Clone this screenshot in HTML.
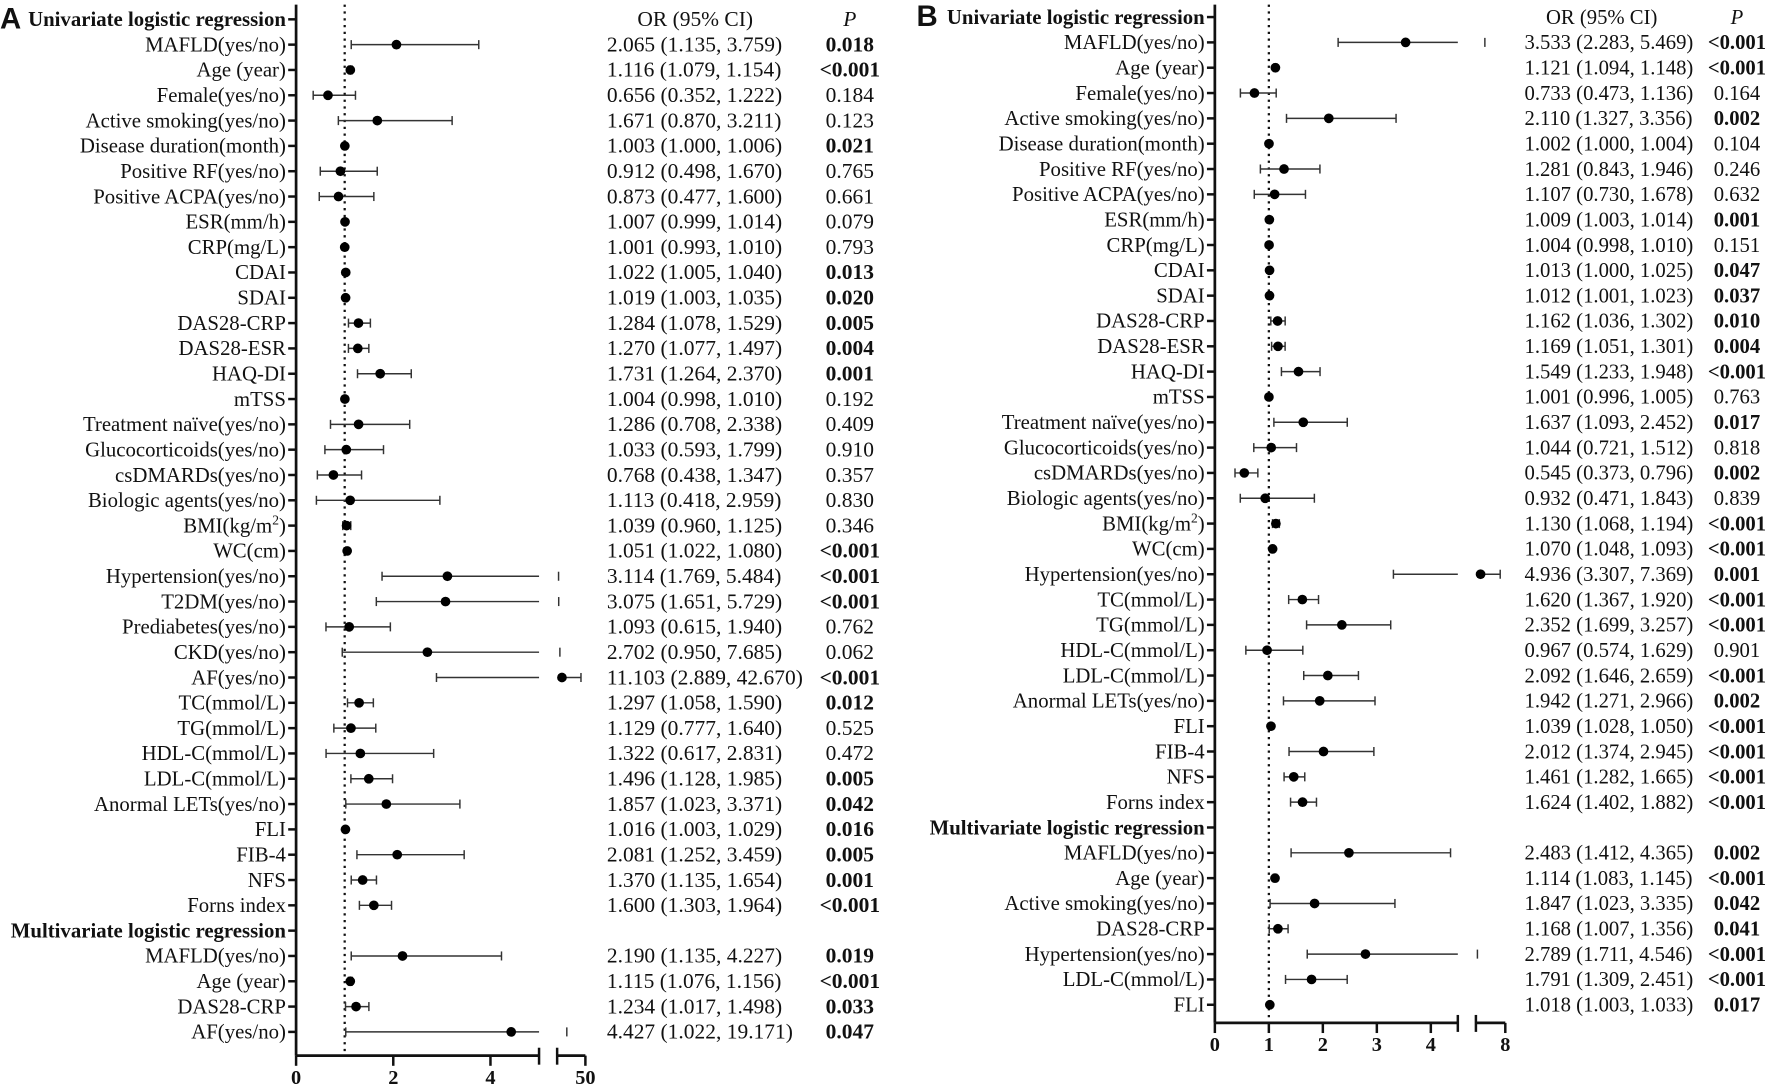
<!DOCTYPE html>
<html><head><meta charset="utf-8"><style>
html,body{margin:0;padding:0;background:#fff;}
svg{display:block;}
text{font-family:"Liberation Serif",serif;fill:#111;}
</style></head><body>
<svg id="chart" width="1772" height="1084" viewBox="0 0 1568 959" xmlns="http://www.w3.org/2000/svg"></svg>
<script>
// Panel A data
const labelsA = ["Univariate logistic regression","MAFLD(yes/no)","Age (year)","Female(yes/no)","Active smoking(yes/no)","Disease duration(month)","Positive RF(yes/no)","Positive ACPA(yes/no)","ESR(mm/h)","CRP(mg/L)","CDAI","SDAI","DAS28-CRP","DAS28-ESR","HAQ-DI","mTSS","Treatment naïve(yes/no)","Glucocorticoids(yes/no)","csDMARDs(yes/no)","Biologic agents(yes/no)","BMI(kg/m2)","WC(cm)","Hypertension(yes/no)","T2DM(yes/no)","Prediabetes(yes/no)","CKD(yes/no)","AF(yes/no)","TC(mmol/L)","TG(mmol/L)","HDL-C(mmol/L)","LDL-C(mmol/L)","Anormal LETs(yes/no)","FLI","FIB-4","NFS","Forns index","Multivariate logistic regression","MAFLD(yes/no)","Age (year)","DAS28-CRP","AF(yes/no)"];
const orA = [null,2.065,1.116,0.656,1.671,1.003,0.912,0.873,1.007,1.001,1.022,1.019,1.284,1.270,1.731,1.004,1.286,1.033,0.768,1.113,1.039,1.051,3.114,3.075,1.093,2.702,11.103,1.297,1.129,1.322,1.496,1.857,1.016,2.081,1.370,1.600,null,2.190,1.115,1.234,4.427];
const loA = [null,1.135,1.079,0.352,0.870,1.000,0.498,0.477,0.999,0.993,1.005,1.003,1.078,1.077,1.264,0.998,0.708,0.593,0.438,0.418,0.960,1.022,1.769,1.651,0.615,0.950,2.889,1.058,0.777,0.617,1.128,1.023,1.003,1.252,1.135,1.303,null,1.135,1.076,1.017,1.022];
const hiA = [null,3.759,1.154,1.222,3.211,1.006,1.670,1.600,1.014,1.010,1.040,1.035,1.529,1.497,2.370,1.010,2.338,1.799,1.347,2.959,1.125,1.080,5.484,5.729,1.940,7.685,42.670,1.590,1.640,2.831,1.985,3.371,1.029,3.459,1.654,1.964,null,4.227,1.156,1.498,19.171];
const pA = [null,"0.018","<0.001","0.184","0.123","0.021","0.765","0.661","0.079","0.793","0.013","0.020","0.005","0.004","0.001","0.192","0.409","0.910","0.357","0.830","0.346","<0.001","<0.001","<0.001","0.762","0.062","<0.001","0.012","0.525","0.472","0.005","0.042","0.016","0.005","0.001","<0.001",null,"0.019","<0.001","0.033","0.047"];
const ticksA = [0,2,4,50];
// Panel B data
const labelsB = ["Univariate logistic regression","MAFLD(yes/no)","Age (year)","Female(yes/no)","Active smoking(yes/no)","Disease duration(month)","Positive RF(yes/no)","Positive ACPA(yes/no)","ESR(mm/h)","CRP(mg/L)","CDAI","SDAI","DAS28-CRP","DAS28-ESR","HAQ-DI","mTSS","Treatment naïve(yes/no)","Glucocorticoids(yes/no)","csDMARDs(yes/no)","Biologic agents(yes/no)","BMI(kg/m2)","WC(cm)","Hypertension(yes/no)","TC(mmol/L)","TG(mmol/L)","HDL-C(mmol/L)","LDL-C(mmol/L)","Anormal LETs(yes/no)","FLI","FIB-4","NFS","Forns index","Multivariate logistic regression","MAFLD(yes/no)","Age (year)","Active smoking(yes/no)","DAS28-CRP","Hypertension(yes/no)","LDL-C(mmol/L)","FLI"];
const orB = [null,3.533,1.121,0.733,2.110,1.002,1.281,1.107,1.009,1.004,1.013,1.012,1.162,1.169,1.549,1.001,1.637,1.044,0.545,0.932,1.130,1.070,4.936,1.620,2.352,0.967,2.092,1.942,1.039,2.012,1.461,1.624,null,2.483,1.114,1.847,1.168,2.789,1.791,1.018];
const loB = [null,2.283,1.094,0.473,1.327,1.000,0.843,0.730,1.003,0.998,1.000,1.001,1.036,1.051,1.233,0.996,1.093,0.721,0.373,0.471,1.068,1.048,3.307,1.367,1.699,0.574,1.646,1.271,1.028,1.374,1.282,1.402,null,1.412,1.083,1.023,1.007,1.711,1.309,1.003];
const hiB = [null,5.469,1.148,1.136,3.356,1.004,1.946,1.678,1.014,1.010,1.025,1.023,1.302,1.301,1.948,1.005,2.452,1.512,0.796,1.843,1.194,1.093,7.369,1.920,3.257,1.629,2.659,2.966,1.050,2.945,1.665,1.882,null,4.365,1.145,3.335,1.356,4.546,2.451,1.033];
const pB = [null,"<0.001","<0.001","0.164","0.002","0.104","0.246","0.632","0.001","0.151","0.047","0.037","0.010","0.004","<0.001","0.763","0.017","0.818","0.002","0.839","<0.001","<0.001","0.001","<0.001","<0.001","0.901","<0.001","0.002","<0.001","<0.001","<0.001","<0.001",null,"0.002","<0.001","0.042","0.041","<0.001","<0.001","0.017"];
const ticksB = [0,1,2,3,4,8];

const NS = "http://www.w3.org/2000/svg";
const svg = document.getElementById('chart');
function mk(tag, attrs, parent){const e=document.createElementNS(NS,tag);for(const k in attrs)e.setAttribute(k,attrs[k]);(parent||svg).appendChild(e);return e;}

function drawPanel(cfg){
  const g = mk('g',{});
  
  
  const sx = v => v <= cfg.brk ? cfg.x0 + (v - cfg.d1[0])/(cfg.d1[1]-cfg.d1[0])*(cfg.r1[1]-cfg.x0)
                               : cfg.r2[0] + (v - cfg.brk)/(cfg.d2[1]-cfg.brk)*(cfg.r2[1]-cfg.r2[0]);
  const sy = i => cfg.y0 + i*cfg.dy;
  const L = mk('text',{x:cfg.letterX,y:cfg.y0+8,'font-size':26,'font-weight':'bold',style:'font-family:"Liberation Sans",sans-serif'},g);
  L.textContent = cfg.letter;
  
  
  const ya = mk('line',{x1:cfg.x0,x2:cfg.x0,y1:4,y2:cfg.axisY,stroke:'#111','stroke-width':2.4},g);
  
  
  const rl = mk('line',{x1:sx(1),x2:sx(1),y1:4,y2:cfg.axisY,stroke:'#111','stroke-width':2,'stroke-dasharray':'2 4'},g);
  
  
  const xa1 = mk('line',{x1:cfg.x0,x2:cfg.r1[1],y1:cfg.axisY,y2:cfg.axisY,stroke:'#111','stroke-width':2.4},g);
  
  
  const xa2 = mk('line',{x1:cfg.r2[0]-1,x2:cfg.r2[1],y1:cfg.axisY,y2:cfg.axisY,stroke:'#111','stroke-width':2.4},g);
  
  
  [cfg.r1[1], cfg.r2[0]-1].forEach(x=>{mk('line',{x1:x,x2:x,y1:cfg.axisY-7,y2:cfg.axisY+8,stroke:'#111','stroke-width':2.2},g);});
  cfg.ticks.forEach(t=>{
    const x = sx(t);
    mk('line',{x1:x,x2:x,y1:cfg.axisY,y2:cfg.axisY+9,stroke:'#111','stroke-width':2.2},g);
    const tl = mk('text',{x:x,y:cfg.axisY+25,'text-anchor':'middle','font-size':18,'font-weight':'bold'},g);
    tl.textContent = t;
    
    
  });
  const h1 = mk('text',{x:cfg.orX+cfg.orHdrDx,y:sy(0)+6,'font-size':cfg.valFs},g);
  h1.textContent = 'OR (95% CI)';
  
  
  const h2 = mk('text',{x:cfg.pX,y:sy(0)+6,'font-size':cfg.valFs,'font-style':'italic','text-anchor':'middle'},g);
  h2.textContent = 'P';
  
  
  cfg.labels.forEach((lab,i)=>{
    const y = sy(i);
    mk('line',{x1:cfg.x0-7,x2:cfg.x0,y1:y,y2:y,stroke:'#111','stroke-width':2.2},g);
    const isHdr = cfg.or[i]===null;
    const t = mk('text',{x:cfg.x0-9,y:y+6,'text-anchor':'end','font-size':isHdr?18.4:18.4,'font-weight':isHdr?'bold':'normal'},g);
    if(lab.indexOf('kg/m2')>=0){t.textContent='BMI(kg/m';const s=mk('tspan',{'font-size':12,dy:-7},t);s.textContent='2';const e=mk('tspan',{dy:7},t);e.textContent=')';}
    else t.textContent = lab;
    
    
    if(isHdr) return;
    const o=cfg.or[i], lo=cfg.lo[i], hi=cfg.hi[i];
    const hiIn = hi<=cfg.brk;
    const xe = hiIn ? sx(hi) : cfg.r1[1];
    const wl = mk('line',{x1:sx(lo),x2:xe,y1:y,y2:y,stroke:'#333','stroke-width':1.3},g);
    
    
    mk('line',{x1:sx(lo),x2:sx(lo),y1:y-4,y2:y+4,stroke:'#333','stroke-width':1.3},g);
    mk('line',{x1:sx(hi),x2:sx(hi),y1:y-4,y2:y+4,stroke:'#333','stroke-width':1.3},g);
    if(!hiIn && o>cfg.brk) mk('line',{x1:cfg.r2[0],x2:sx(hi),y1:y,y2:y,stroke:'#333','stroke-width':1.3},g);
    const d = mk('circle',{cx:sx(o),cy:y,r:4.3,fill:'#000'},g);
    
    
    const ot = mk('text',{x:cfg.orX,y:y+6,'font-size':cfg.valFs},g);
    ot.textContent = o.toFixed(3)+' ('+lo.toFixed(3)+', '+hi.toFixed(3)+')';
    
    
    const p = cfg.p[i];
    const sig = p[0]==='<' || parseFloat(p)<0.05;
    const pt = mk('text',{x:cfg.pX,y:y+6,'font-size':cfg.valFs,'text-anchor':'middle','font-weight':sig?'bold':'normal'},g);
    pt.textContent = p;
    
    
  });
}

drawPanel({name:'panel-a',letter:'A',letterX:0,labels:labelsA,or:orA,lo:loA,hi:hiA,p:pA,ticks:ticksA,
  x0:262,y0:17,dy:22.4,axisY:934,brk:5,d1:[0,5],r1:[262,477],d2:[5,50],r2:[494,518],
  orX:537,orHdrDx:27,pX:752,valFs:19});
drawPanel({name:'panel-b',letter:'B',letterX:811,labels:labelsB,or:orB,lo:loB,hi:hiB,p:pB,ticks:ticksB,
  x0:1075,y0:15,dy:22.41,axisY:905,brk:4.5,d1:[0,4.5],r1:[1075,1290],d2:[4.5,8],r2:[1307,1332],
  orX:1349,orHdrDx:19,pX:1537,valFs:18.3});
</script>
</body></html>
